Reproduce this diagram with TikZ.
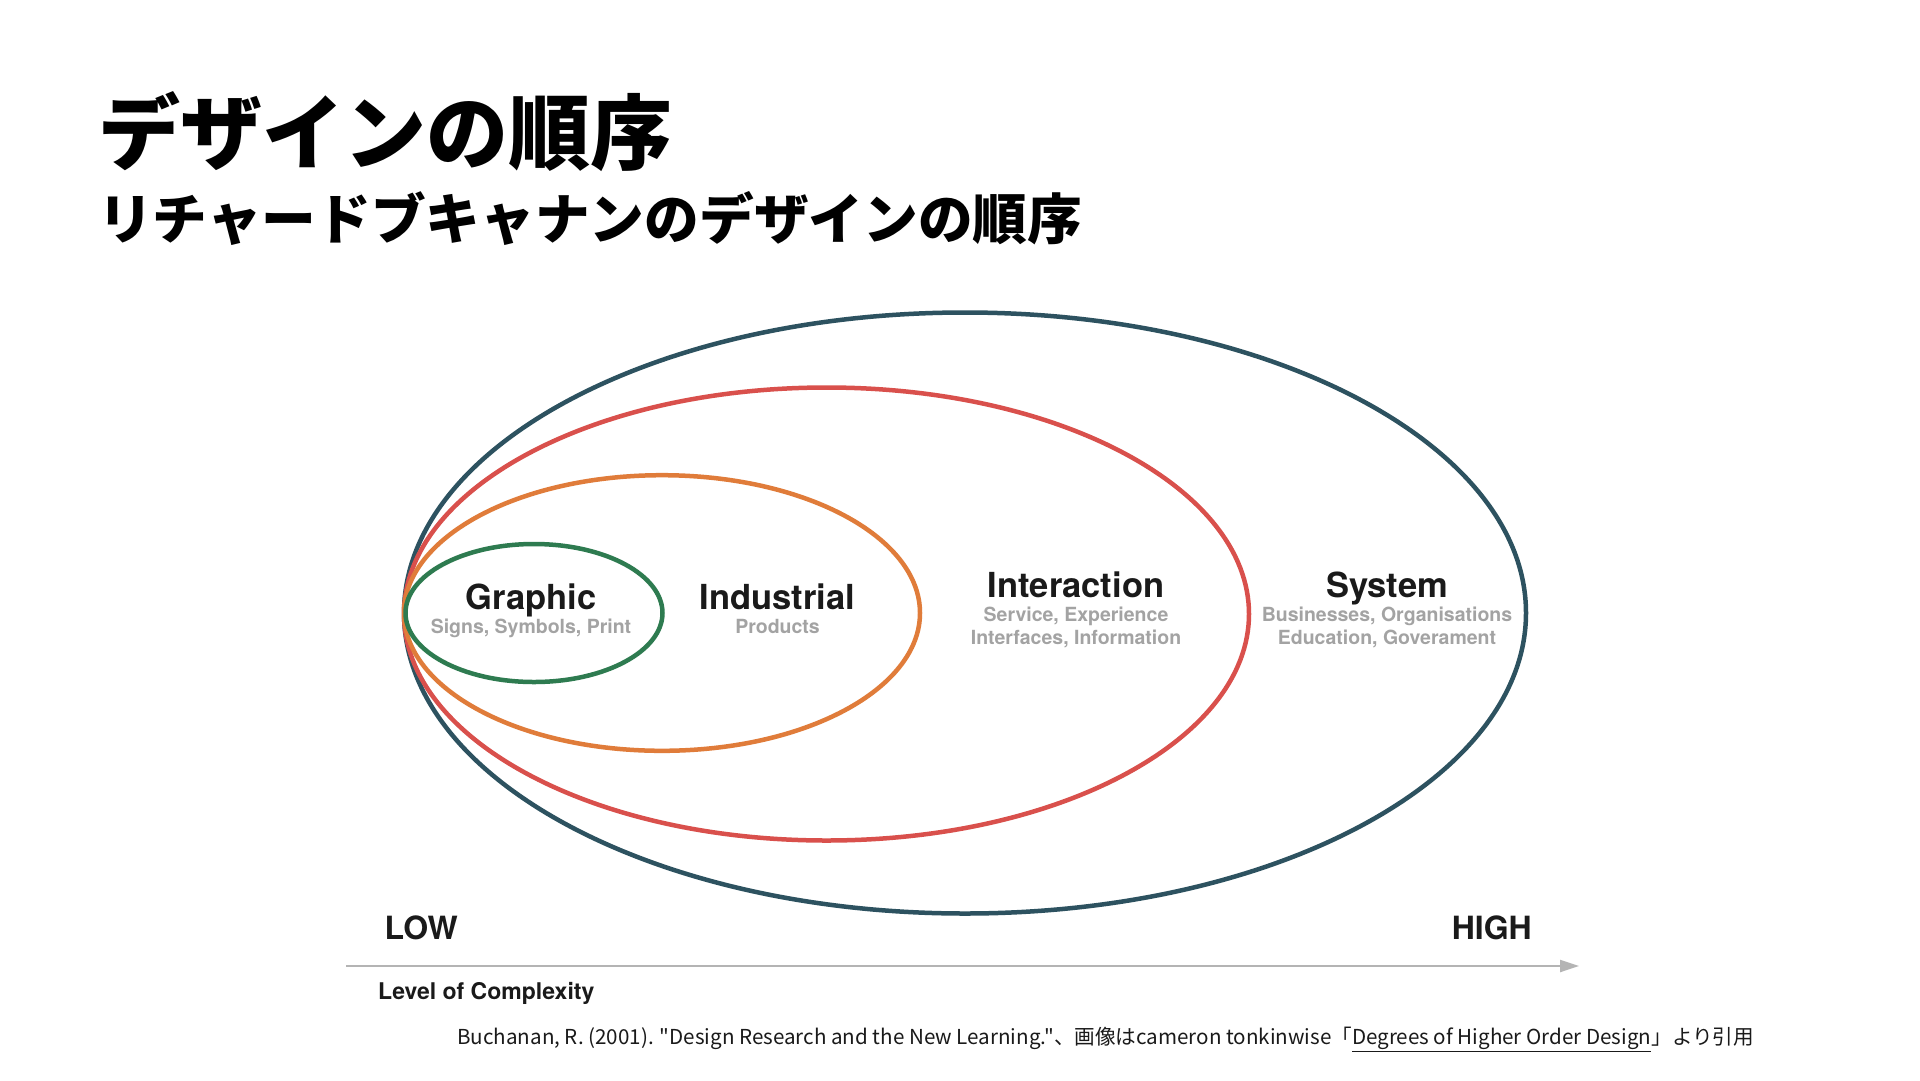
\documentclass[tikz,border=0pt]{standalone}
\usepackage{fontspec}
\setmainfont{TeX Gyre Heros}
\newfontfamily\cjk{Noto Sans CJK JP}
\usetikzlibrary{arrows.meta}
\definecolor{cblue}{HTML}{2D5260}
\definecolor{cred}{HTML}{D9504C}
\definecolor{corange}{HTML}{E07C3A}
\definecolor{cgreen}{HTML}{2E7B50}
\definecolor{csub}{HTML}{A3A3A3}
\definecolor{ctxt}{HTML}{1A1A1A}
\definecolor{carrow}{HTML}{B4B4B4}
\begin{document}
\begin{tikzpicture}[x=1pt,y=-1pt,
  ring/.style={line width=4.5pt},
  head/.style={inner sep=0pt,anchor=base,text=ctxt,font=\fontsize{34.5}{40}\selectfont\bfseries},
  sub/.style={inner sep=0pt,anchor=base,text=csub,font=\fontsize{19.5}{23}\selectfont\bfseries},
  axis/.style={inner sep=0pt,text=ctxt,font=\fontsize{32}{36}\selectfont\bfseries},
  title/.style={inner sep=0pt,anchor=west,text=black,font=\fontsize{82}{90}\selectfont\cjk\bfseries},
  subtitle/.style={inner sep=0pt,anchor=west,text=black,font=\fontsize{54.7}{62}\selectfont\cjk\bfseries},
  cite/.style={inner sep=0pt,anchor=base west,text=ctxt,font=\fontsize{20.6}{24}\selectfont\cjk}
]
\useasboundingbox[fill=white] (0,0) rectangle (1920,1080);

% titles
\node[title] (t1) at (98,132) {デザインの順序};
\node[subtitle] (t2) at (98,218.5) {リチャードブキャナンのデザインの順序};

% ellipses
\draw[ring,cblue] (965,613) ellipse [x radius=561, y radius=300.5];
\draw[ring,cred] (826.5,614) ellipse [x radius=422.5, y radius=226.5];
\draw[ring,corange] (662,613) ellipse [x radius=258, y radius=137.8];
\draw[ring,cgreen] (534,613) ellipse [x radius=128.5, y radius=69];

% labels
\node[head] (g) at (531,609) {Graphic};
\node[sub] (gs) at (531,633) {Signs, Symbols, Print};
\node[head] (i) at (777.5,609) {Industrial};
\node[sub] (is) at (777.5,633) {Products};
\node[head] (ia) at (1076,597) {Interaction};
\node[sub] (ia1) at (1076,621) {Service, Experience};
\node[sub] (ia2) at (1076,644) {Interfaces, Information};
\node[head] (s) at (1387,597) {System};
\node[sub] (s1) at (1387,621) {Businesses, Organisations};
\node[sub] (s2) at (1387,644) {Education, Goverament};

% axis
\node[axis,anchor=base west] (low) at (384.5,939) {LOW};
\node[axis,anchor=base east] (high) at (1532,939) {HIGH};
\coordinate (a0) at (346,966);
\coordinate (a1) at (1579,966);
\draw[carrow,line width=2.2pt,-{Triangle[length=19pt,width=12pt]}] (a0) -- (a1);
\node[inner sep=0pt,anchor=base west,text=ctxt,font=\fontsize{23}{27}\selectfont\bfseries] (lvl) at (378,999) {Level of Complexity};

% citation
\node[cite] (c) at (457,1044.5) {Buchanan, R. (2001). "Design Research and the New Learning."、画像はcameron tonkinwise「\underline{Degrees of Higher Order Design}」より引用};
\end{tikzpicture}
\end{document}
